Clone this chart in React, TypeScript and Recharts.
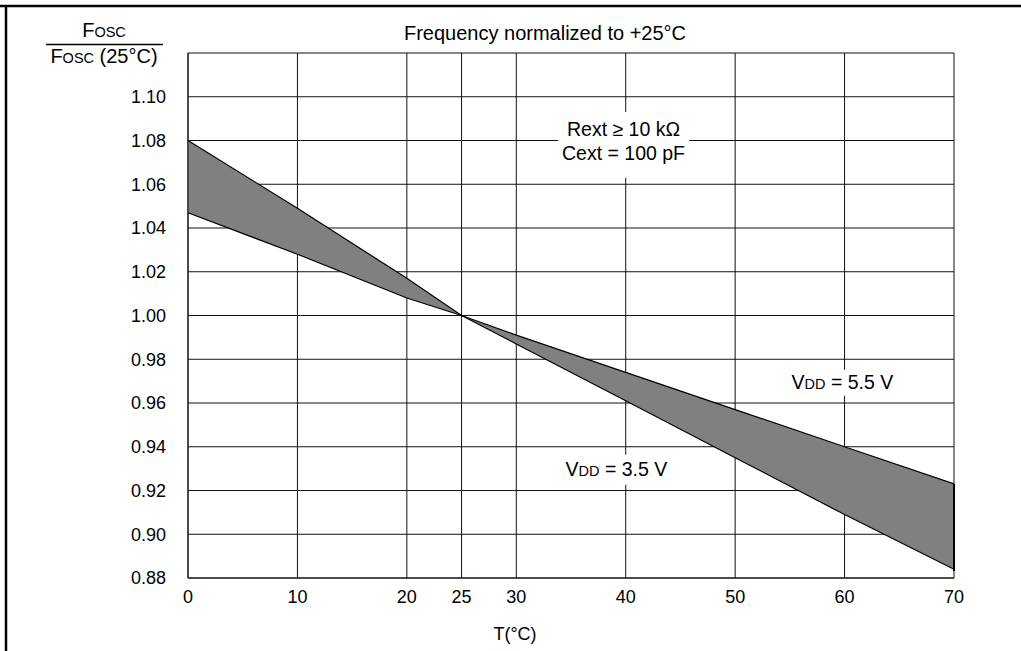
import { ComposedChart, Area, Line, XAxis, YAxis, CartesianGrid, ReferenceArea } from 'recharts';

const temps = [0, 10, 20, 25, 30, 40, 50, 60, 70];
const vdd35 = [1.08, 1.049, 1.017, 1.0, 0.987, 0.961, 0.935, 0.909, 0.884];
const vdd55 = [1.047, 1.028, 1.008, 1.0, 0.991, 0.974, 0.957, 0.94, 0.923];

const xTicks = [0, 10, 20, 25, 30, 40, 50, 60, 70];
const yTicks = [0.88, 0.9, 0.92, 0.94, 0.96, 0.98, 1.0, 1.02, 1.04, 1.06, 1.08, 1.1, 1.12];

const chartData = temps.map((t, i) => ({
  t,
  v35: vdd35[i],
  v55: vdd55[i],
  band: [Math.min(vdd35[i], vdd55[i]), Math.max(vdd35[i], vdd55[i])],
}));

const FONT = '"Liberation Sans", Arial, Helvetica, sans-serif';

function RextText(props: any) {
  const vb = props.viewBox;
  if (!vb) return null;
  const cx = vb.x + vb.width / 2;
  const cy = vb.y + vb.height / 2;
  return (
    <g>
      <text x={cx} y={cy - 8.5} textAnchor="middle" fontSize={19.5} fontFamily={FONT} fill="#000">
        Rext ≥ 10 kΩ
      </text>
      <text x={cx} y={cy + 15.5} textAnchor="middle" fontSize={19.5} fontFamily={FONT} fill="#000">
        Cext = 100 pF
      </text>
    </g>
  );
}

function vddText(value: string) {
  return (props: any) => {
    const vb = props.viewBox;
    if (!vb) return null;
    const cx = vb.x + vb.width / 2;
    const cy = vb.y + vb.height / 2;
    return (
      <text x={cx} y={cy + 6.5} textAnchor="middle" fontSize={19.5} fontFamily={FONT} fill="#000">
        V<tspan fontSize={14.5}>DD</tspan> = {value} V
      </text>
    );
  };
}

export default function App() {
  return (
    <div style={{ position: 'absolute', left: 0, top: 0, width: 1021, height: 651, background: '#fff', fontFamily: FONT }}>
      <ComposedChart
        width={1021}
        height={651}
        data={chartData}
        margin={{ top: 53, right: 67, bottom: 0, left: 0 }}
      >
        <CartesianGrid stroke="#111" strokeWidth={1} />
        <XAxis
          dataKey="t"
          type="number"
          domain={[0, 70]}
          ticks={xTicks}
          height={73}
          tickSize={0}
          tickMargin={12}
          tickLine={false}
          axisLine={{ stroke: '#111' }}
          tick={{ fill: '#000', fontSize: 18, fontFamily: FONT }}
        />
        <YAxis
          type="number"
          domain={[0.88, 1.12]}
          ticks={yTicks}
          width={188}
          tickSize={0}
          tickMargin={22}
          tickLine={false}
          axisLine={{ stroke: '#111' }}
          tickFormatter={(v: number) => (v > 1.11 ? '' : v.toFixed(2))}
          tick={{ fill: '#000', fontSize: 18, fontFamily: FONT }}
          allowDataOverflow
        />
        <ReferenceArea x1={33.8} x2={45.8} y1={1.063} y2={1.093} fill="#fff" fillOpacity={1} stroke="none" label={RextText} />
        <ReferenceArea x1={34.3} x2={44.0} y1={0.9226} y2={0.9363} fill="#fff" fillOpacity={1} stroke="none" label={vddText('3.5')} />
        <ReferenceArea x1={54.8} x2={64.8} y1={0.9633} y2={0.9752} fill="#fff" fillOpacity={1} stroke="none" label={vddText('5.5')} />
        <Area
          dataKey="band"
          type="linear"
          fill="#808080"
          fillOpacity={1}
          stroke="none"
          isAnimationActive={false}
        />
        <Line dataKey="v35" type="linear" stroke="#000" strokeWidth={1.2} dot={false} isAnimationActive={false} />
        <Line dataKey="v55" type="linear" stroke="#000" strokeWidth={1.2} dot={false} isAnimationActive={false} />
      </ComposedChart>
      <svg
        width={1021}
        height={651}
        style={{ position: 'absolute', left: 0, top: 0, pointerEvents: 'none' }}
      >
        <line x1={0} y1={6} x2={1021} y2={6} stroke="#000" strokeWidth={2.5} />
        <line x1={6} y1={6} x2={6} y2={651} stroke="#000" strokeWidth={2.5} />
        <text x={104} y={37} textAnchor="middle" fontSize={20} fontFamily={FONT} fill="#000">
          F<tspan fontSize={14.5}>OSC</tspan>
        </text>
        <line x1={46} y1={44.5} x2={163} y2={44.5} stroke="#000" strokeWidth={1.5} />
        <text x={104} y={63} textAnchor="middle" fontSize={20} fontFamily={FONT} fill="#000">
          F<tspan fontSize={14.5}>OSC</tspan> (25°C)
        </text>
        <text x={545} y={40} textAnchor="middle" fontSize={20} fontFamily={FONT} fill="#000">
          Frequency normalized to +25°C
        </text>
        <text x={515} y={640} textAnchor="middle" fontSize={18} fontFamily={FONT} fill="#000">
          T(°C)
        </text>
        <line x1={954} y1={484} x2={954} y2={571} stroke="#000" strokeWidth={2} />
      </svg>
    </div>
  );
}
